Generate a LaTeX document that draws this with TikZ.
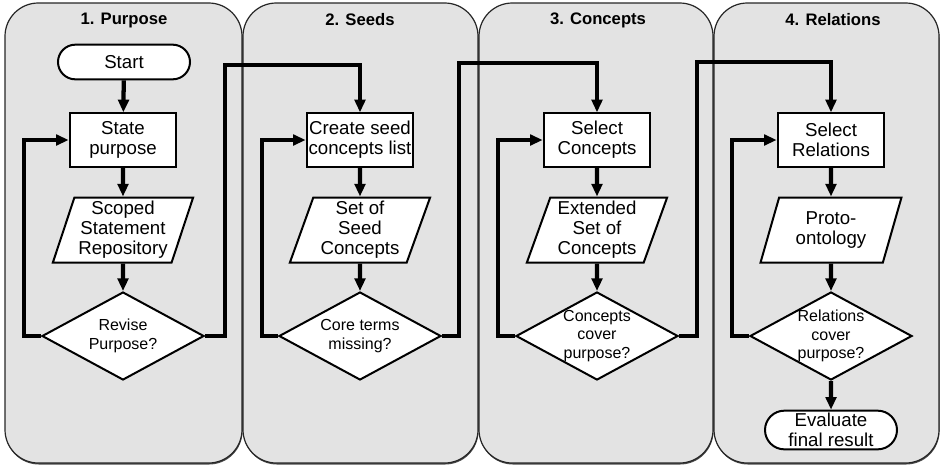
\documentclass[tikz,border=0pt]{standalone}
\usepackage{fontspec}
\setmainfont{Liberation Sans}
\usetikzlibrary{shapes.geometric,shapes.misc,arrows.meta}

\begin{document}
\begin{tikzpicture}[x=0.75pt,y=-0.75pt,
  lane/.style={draw=black!85, line width=0.9pt, fill=black!11, rounded corners=25pt},
  laneshadow/.style={fill=black!70, rounded corners=25pt},
  lanetitle/.style={font=\bfseries\fontsize{12.5}{14}\selectfont},
  procbox/.style={draw, line width=1.5pt, fill=white, minimum width=80pt,
    minimum height=40pt, align=center, inner sep=1pt, font=\fontsize{14}{15}\selectfont},
  iobox/.style={trapezium, trapezium left angle=71, trapezium right angle=109,
    trapezium stretches=true, draw, line width=1.5pt, fill=white,
    minimum width=105.75pt, minimum height=48.75pt, inner sep=0pt, align=center,
    font=\fontsize{14}{15}\selectfont},
  decision/.style={diamond, draw, line width=1.5pt, fill=white, minimum width=121.5pt,
    minimum height=66pt, aspect=1.84, inner sep=0pt, align=center,
    font=\fontsize{12}{13.8}\selectfont},
  terminal/.style={rounded rectangle, draw, line width=1.5pt, fill=white,
    minimum width=99pt, minimum height=26pt, align=center, inner sep=0pt,
    font=\fontsize{14}{15}\selectfont},
  flow/.style={line width=3.2pt, -{Triangle[length=9.5pt,width=8pt]}},
]
\useasboundingbox (0,0) rectangle (942,465);

% swimlanes with a faint drop shadow along the bottom
\foreach \a/\b in {5/242, 243/478, 479/713, 714/939}
  \path[laneshadow] (\a+0.5,4.5) rectangle (\b+0.5,464.5);
\path[lane] (5,3) rectangle (242,463);
\path[lane] (243,3) rectangle (478,463);
\path[lane] (479,3) rectangle (713,463);
\path[lane] (714,3) rectangle (939,463);

\node[lanetitle] (t1) at (124,20) {1. Purpose};
\node[lanetitle] (t2) at (360,20) {2. Seeds};
\node[lanetitle] (t3) at (598,20) {3. Concepts};
\node[lanetitle] (t4) at (833,20) {4. Relations};

% lane 1
\node[terminal] (start) at (124,62) {Start};
\node[procbox] (p1) at (123,140) {State\\purpose};
\node[iobox] (d1) at (123,230) {Scoped\\Statement\\Repository};
\node[decision] (q1) at (123,336) {Revise\\Purpose?};

% lane 2
\node[procbox] (p2) at (360,140) {Create seed\\concepts list};
\node[iobox] (d2) at (360,230) {Set of\\Seed\\Concepts};
\node[decision] (q2) at (360,336) {Core terms\\missing?};

% lane 3
\node[procbox] (p3) at (597,140) {Select\\Concepts};
\node[iobox] (d3) at (597,230) {Extended\\Set of\\Concepts};
\node[decision] (q3) at (597,336) {Concepts\\cover\\purpose?};

% lane 4
\node[procbox] (p4) at (831,140) {Select\\Relations};
\node[iobox] (d4) at (831,230) {Proto-\\ontology};
\node[decision] (q4) at (831,336) {Relations\\cover\\purpose?};
\node[terminal, minimum height=29pt] (end) at (831,430) {Evaluate\\final result};

% loop corners
\coordinate (l1) at (24,336);
\coordinate (l2) at (262,336);
\coordinate (l3) at (498,336);
\coordinate (l4) at (732,336);
\coordinate (r1) at (225,336);
\coordinate (r2) at (459,336);
\coordinate (r3) at (697,336);
\coordinate (u1) at (225,65);
\coordinate (u2) at (459,63);
\coordinate (u3) at (697,62);

% straight flow
\draw[flow] (start) -- (p1);
\foreach \i in {1,2,3,4} {
  \draw[flow] (p\i) -- (d\i);
  \draw[flow] (d\i) -- (q\i);
}
\draw[flow] (q4) -- (end);

% revision loops
\draw[flow] (q1.west) -- (l1) |- (p1.west);
\draw[flow] (q2.west) -- (l2) |- (p2.west);
\draw[flow] (q3.west) -- (l3) |- (p3.west);
\draw[flow] (q4.west) -- (l4) |- (p4.west);

% hand-over to the next step
\draw[flow] (q1.east) -- (r1) -- (u1) -| (p2.north);
\draw[flow] (q2.east) -- (r2) -- (u2) -| (p3.north);
\draw[flow] (q3.east) -- (r3) -- (u3) -| (p4.north);
\end{tikzpicture}
\end{document}
